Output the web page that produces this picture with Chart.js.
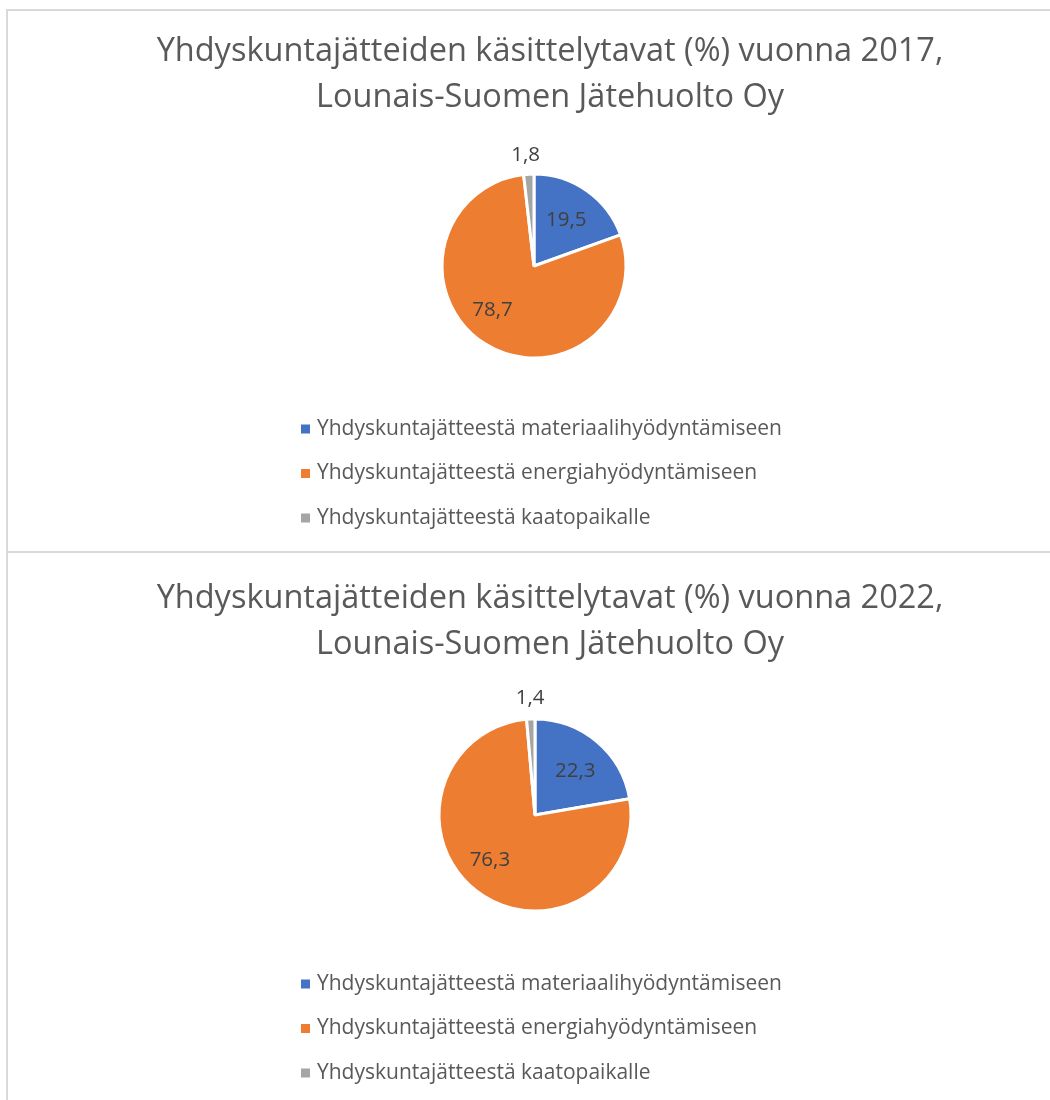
<!DOCTYPE html>
<html>
<head>
    <meta charset="utf-8">
    <script src="https://cdn.jsdelivr.net/npm/chart.js@4.4.1/dist/chart.umd.min.js"></script>
    <style>
        html, body {
            margin: 0;
            padding: 0;
            background: #ffffff;
            overflow: hidden;
            width: 1050px;
            height: 1100px;
        }

        .box {
            position: absolute;
            left: 6px;
            width: 1090px;
            border: 2px solid #d9d9d9;
        }

        #box1 {
            top: 9px;
            height: 541px;
            border-bottom: none;
        }

        #box2 {
            top: 551px;
            height: 560px;
        }

        canvas {
            display: block;
        }
    </style>
</head>
<body>
    <div class="box" id="box1">
        <canvas id="chart1"></canvas>
    </div>
    <div class="box" id="box2">
        <canvas id="chart2"></canvas>
    </div>
    <script>
        // categories (same for both years)
        var categories = [
            'Yhdyskuntajätteestä materiaalihyödyntämiseen',
            'Yhdyskuntajätteestä energiahyödyntämiseen',
            'Yhdyskuntajätteestä kaatopaikalle'
        ];

        // shares in percent
        var values2017 = [19.5, 78.7, 1.8];
        var values2022 = [22.3, 76.3, 1.4];

        var titles2017 = ['Yhdyskuntajätteiden käsittelytavat (%) vuonna 2017,', 'Lounais-Suomen Jätehuolto Oy'];
        var titles2022 = ['Yhdyskuntajätteiden käsittelytavat (%) vuonna 2022,', 'Lounais-Suomen Jätehuolto Oy'];

        var colors = ['#4472C4', '#ED7D31', '#A5A5A5'];
        var fontFamily = '"Open Sans", "Noto Sans", sans-serif';

        function fmt(v) {
            return v.toFixed(1).replace('.', ',');
        }

        // title drawn by hand: the original title is centred on a wider box than the pie
        var boxTitle = {
            id: 'boxTitle',
            afterDraw: function (chart, args, opts) {
                var ctx = chart.ctx;
                ctx.save();
                ctx.font = opts.size + 'px ' + fontFamily;
                ctx.fillStyle = '#595959';
                ctx.textAlign = 'center';
                ctx.textBaseline = 'middle';
                opts.text.forEach(function (line, i) {
                    ctx.fillText(line, opts.x, opts.top + i * opts.lineHeight);
                });
                ctx.restore();
            }
        };

        // value labels, placed as fraction of radius from the pie centre
        var valueLabels = {
            id: 'valueLabels',
            afterDatasetsDraw: function (chart, args, opts) {
                var ctx = chart.ctx;
                var meta = chart.getDatasetMeta(0);
                var data = chart.data.datasets[0].data;
                ctx.save();
                ctx.font = opts.size + 'px ' + fontFamily;
                ctx.fillStyle = '#404040';
                ctx.textAlign = 'center';
                ctx.textBaseline = 'middle';
                meta.data.forEach(function (arc, i) {
                    var r = arc.outerRadius;
                    var off = opts.offsets[i];
                    ctx.fillText(fmt(data[i]), arc.x + off[0] * r, arc.y + off[1] * r);
                });
                ctx.restore();
            }
        };

        // vertical legend, left aligned like the original
        var listLegend = {
            id: 'listLegend',
            afterDraw: function (chart, args, opts) {
                var ctx = chart.ctx;
                var labels = chart.data.labels;
                var bg = chart.data.datasets[0].backgroundColor;
                ctx.save();
                ctx.font = opts.size + 'px ' + fontFamily;
                ctx.textAlign = 'left';
                ctx.textBaseline = 'middle';
                labels.forEach(function (lab, i) {
                    var y = opts.top + i * opts.step;
                    ctx.fillStyle = bg[i];
                    ctx.fillRect(opts.x, y - 4.5, 9, 9);
                    ctx.fillStyle = '#595959';
                    ctx.fillText(lab, opts.x + 16, y);
                });
                ctx.restore();
            }
        };

        function makeChart(id, height, values, title, layout) {
            var ctx = document.getElementById(id).getContext('2d');
            ctx.canvas.width = 1043;
            ctx.canvas.height = height;

            return new Chart(ctx, {
                type: 'pie',
                data: {
                    labels: categories,
                    datasets: [{
                        data: values,
                        backgroundColor: colors,
                        borderColor: '#ffffff',
                        borderWidth: 3,
                        radius: layout.radius
                    }]
                },
                options: {
                    responsive: false,
                    animation: false,
                    events: [],
                    layout: {
                        padding: { left: layout.left, right: 0, top: layout.top, bottom: layout.bottom }
                    },
                    plugins: {
                        legend: { display: false },
                        tooltip: { enabled: false },
                        title: { display: false },
                        boxTitle: { text: title, size: 32.5, x: 542, top: layout.titleTop, lineHeight: 46 },
                        valueLabels: { size: 20.5, offsets: layout.offsets },
                        listLegend: { size: 21, x: 293, top: layout.legendTop, step: 44.5 }
                    }
                },
                plugins: [valueLabels, listLegend, boxTitle]
            });
        }

        // chart 1: pie centre at canvas (526, 255)
        makeChart('chart1', 541, values2017, titles2017, {
            radius: 92, left: 2 * 526 - 1043, top: 120, bottom: 541 - (2 * 255 - 120), titleTop: 41, legendTop: 418,
            offsets: [[0.35, -0.5], [-0.45, 0.48], [-0.09, -1.2]]
        });

        // chart 2: pie centre at canvas (527, 262)
        makeChart('chart2', 547, values2022, titles2022, {
            radius: 96, left: 2 * 527 - 1043, top: 120, bottom: 547 - (2 * 262 - 120), titleTop: 46, legendTop: 431,
            offsets: [[0.42, -0.46], [-0.47, 0.47], [-0.05, -1.22]]
        });
    </script>
</body>
</html>
